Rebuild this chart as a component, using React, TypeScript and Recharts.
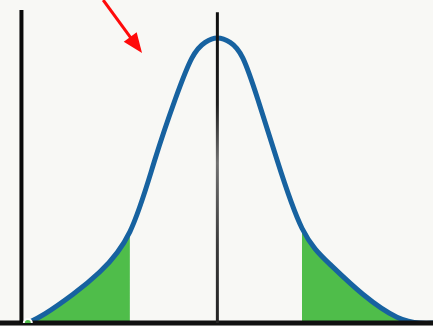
import React from 'react';
import { ComposedChart, Line, Area, XAxis, YAxis, ReferenceLine } from 'recharts';

// bell curve sampled along the horizontal axis (in standard deviations)
const zValues = [
  -3.27, -2.97, -2.49, -2.03, -1.51, -1.08, -0.73, -0.44, -0.21, 0,
  0.22, 0.44, 0.7, 1.03, 1.46, 1.94, 2.51, 3.1, 3.5, 3.72,
];
const density = [
  0, 0.013, 0.04, 0.071, 0.127, 0.227, 0.311, 0.369, 0.391, 0.397,
  0.391, 0.369, 0.311, 0.227, 0.132, 0.082, 0.04, 0.008, 0, 0,
];

// shaded tails
const leftCut = -1.51;
const rightCut = 1.46;

// axes and pointer, in chart units
const axisX = -3.38;
const axisTop = 0.436;
const centerTop = 0.433;
const arrowFrom = { x: -1.97, y: 0.45 };
const arrowTo = { x: -1.3, y: 0.376 };

const data = zValues.map((z, i) => ({
  z,
  y: density[i],
  left: z <= leftCut ? density[i] : null,
  right: z >= rightCut ? density[i] : null,
}));

const Arrow = (props: any) => {
  const { x1, y1, x2, y2 } = props;
  const dx = x2 - x1;
  const dy = y2 - y1;
  const len = Math.sqrt(dx * dx + dy * dy);
  const ux = dx / len;
  const uy = dy / len;
  const head = 20;
  const half = 8;
  const bx = x2 - ux * head;
  const by = y2 - uy * head;
  const pts = `${x2},${y2} ${bx - uy * half},${by + ux * half} ${bx + uy * half},${by - ux * half}`;
  return (
    <g>
      <line x1={x1} y1={y1} x2={bx + ux * 2} y2={by + uy * 2} stroke="#ff0a0a" strokeWidth={3} />
      <polygon points={pts} fill="#ff0a0a" />
    </g>
  );
};

const App: React.FC = () => {
  return (
    <div style={{ width: 433, height: 326, background: '#f8f8f5' }}>
      <style>{'body{margin:0}'}</style>
      <ComposedChart width={433} height={326} data={data} margin={{ top: 0, right: 0, bottom: 3, left: 0 }}>
        <defs>
          <linearGradient id="stem" gradientUnits="userSpaceOnUse" x1="0" y1="0" x2="0" y2="326">
            <stop offset="0" stopColor="#0d0d0d" />
            <stop offset="0.32" stopColor="#1c1c1c" />
            <stop offset="0.5" stopColor="#707070" />
            <stop offset="0.75" stopColor="#3a3a3a" />
            <stop offset="1" stopColor="#222" />
          </linearGradient>
        </defs>
        <XAxis type="number" dataKey="z" domain={[-3.75, 3.72]} allowDataOverflow hide />
        <YAxis type="number" domain={[0, 0.45]} allowDataOverflow hide />
        <Area type="natural" dataKey="left" stroke="none" fill="#4fbd4a" fillOpacity={1} isAnimationActive={false} />
        <Area type="natural" dataKey="right" stroke="none" fill="#4fbd4a" fillOpacity={1} isAnimationActive={false} />
        <Line type="natural" dataKey="y" stroke="#1762a0" strokeWidth={5} dot={false} activeDot={false} isAnimationActive={false} />
        <ReferenceLine y={0} stroke="#111" strokeWidth={5} />
        <ReferenceLine segment={[{ x: axisX, y: 0 }, { x: axisX, y: axisTop }]} stroke="#0a0a0a" strokeWidth={4} />
        <ReferenceLine segment={[{ x: 0, y: 0 }, { x: 0, y: centerTop }]} stroke="url(#stem)" strokeWidth={3} />
        <ReferenceLine segment={[arrowFrom, arrowTo]} ifOverflow="visible" shape={Arrow} />
      </ComposedChart>
    </div>
  );
};

export default App;
